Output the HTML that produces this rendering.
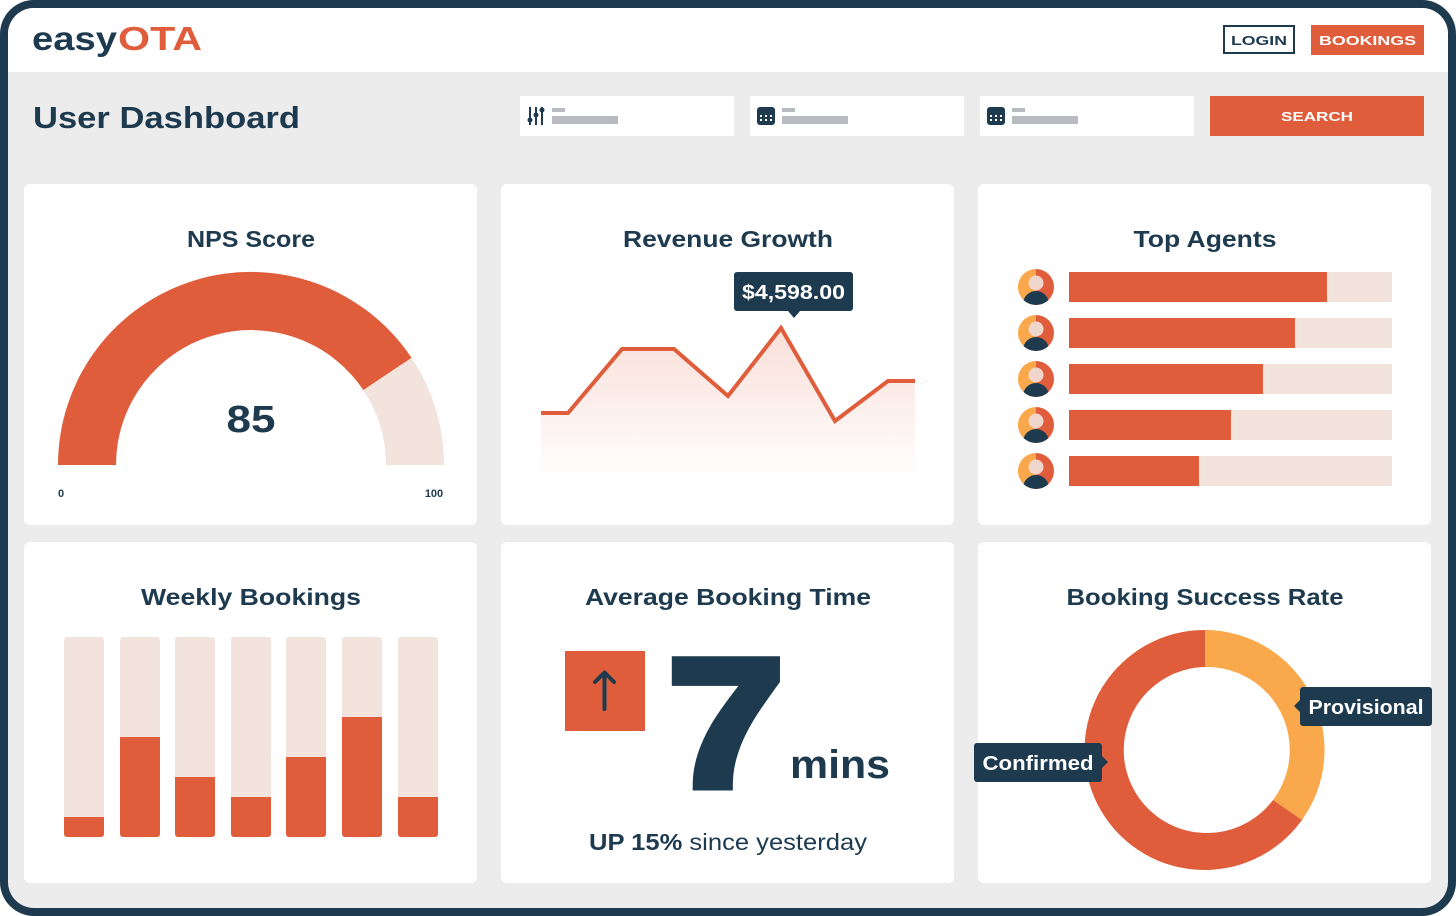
<!DOCTYPE html>
<html><head><meta charset="utf-8"><style>
html,body{margin:0;padding:0;background:#fff;}
svg{display:block;font-family:"Liberation Sans",sans-serif;}
</style></head><body>
<svg width="1456" height="916" viewBox="0 0 1456 916" xmlns="http://www.w3.org/2000/svg">
<defs>
<linearGradient id="g" x1="0" y1="0" x2="0" y2="1"><stop offset="0" stop-color="#e05d3c" stop-opacity="0.2"/><stop offset="1" stop-color="#e05d3c" stop-opacity="0"/></linearGradient>
<clipPath id="av"><circle cx="0" cy="0" r="18"/></clipPath>
<symbol id="avatar" overflow="visible">
<g clip-path="url(#av)">
<rect x="-18" y="-18" width="18" height="36" fill="#f9a94b"/>
<rect x="0" y="-18" width="18" height="36" fill="#e05d3c"/>
<ellipse cx="0" cy="17" rx="13" ry="13" fill="#1d3a4f"/>
<circle cx="0" cy="-4" r="7.5" fill="#f0d5cc"/>
</g>
</symbol>
</defs>
<rect x="0" y="0" width="1456" height="916" rx="34" fill="#1d3a4f"/>
<rect x="8" y="8" width="1440" height="900" rx="26" fill="#ececec"/>
<path d="M8 72 V34 A26 26 0 0 1 34 8 H1422 A26 26 0 0 1 1448 34 V72 Z" fill="#fff"/>
<text x="32" y="50" font-size="33" font-weight="bold" fill="#1d3a4f" textLength="85" lengthAdjust="spacingAndGlyphs">easy</text>
<text x="118" y="50" font-size="33" font-weight="bold" fill="#e05d3c" textLength="84" lengthAdjust="spacingAndGlyphs">OTA</text>
<rect x="1224" y="26" width="70" height="27" fill="#fff" stroke="#1d3a4f" stroke-width="2"/>
<text x="1259" y="45" font-size="13" font-weight="bold" fill="#1d3a4f" text-anchor="middle" textLength="56" lengthAdjust="spacingAndGlyphs">LOGIN</text>
<rect x="1311" y="25" width="113" height="30" fill="#e05d3c"/>
<text x="1367.5" y="45" font-size="13" font-weight="bold" fill="#fff" text-anchor="middle" textLength="97" lengthAdjust="spacingAndGlyphs">BOOKINGS</text>
<text x="33" y="128" font-size="31" font-weight="bold" fill="#1d3a4f" textLength="267" lengthAdjust="spacingAndGlyphs">User Dashboard</text>
<rect x="520" y="96" width="214" height="40" fill="#fff"/>
<rect x="750" y="96" width="214" height="40" fill="#fff"/>
<rect x="980" y="96" width="214" height="40" fill="#fff"/>
<g fill="#1d3a4f"><rect x="529" y="107" width="2" height="18"/><rect x="535" y="107" width="2" height="18"/><rect x="541" y="107" width="2" height="18"/><circle cx="530" cy="120" r="2.5"/><circle cx="536" cy="115" r="2.5"/><circle cx="542" cy="110" r="2.5"/></g>
<rect x="552" y="108" width="13" height="4" fill="#b8bcc0"/><rect x="552" y="116" width="66" height="8" fill="#b8bcc0"/>
<rect x="757" y="107" width="18" height="18" rx="3" fill="#1d3a4f"/><rect x="782" y="108" width="13" height="4" fill="#b8bcc0"/><rect x="782" y="116" width="66" height="8" fill="#b8bcc0"/>
<rect x="987" y="107" width="18" height="18" rx="3" fill="#1d3a4f"/><rect x="1012" y="108" width="13" height="4" fill="#b8bcc0"/><rect x="1012" y="116" width="66" height="8" fill="#b8bcc0"/>
<g fill="#fff"><rect x="760" y="115" width="2" height="2"/><rect x="765" y="115" width="2" height="2"/><rect x="770" y="115" width="2" height="2"/><rect x="760" y="119" width="2" height="2"/><rect x="765" y="119" width="2" height="2"/><rect x="770" y="119" width="2" height="2"/>
<rect x="990" y="115" width="2" height="2"/><rect x="995" y="115" width="2" height="2"/><rect x="1000" y="115" width="2" height="2"/><rect x="990" y="119" width="2" height="2"/><rect x="995" y="119" width="2" height="2"/><rect x="1000" y="119" width="2" height="2"/></g>
<rect x="1210" y="96" width="214" height="40" fill="#e05d3c"/>
<text x="1317" y="121" font-size="13" font-weight="bold" fill="#fff" text-anchor="middle" textLength="72" lengthAdjust="spacingAndGlyphs">SEARCH</text>
<g fill="#fff">
<rect x="24" y="184" width="453" height="341" rx="6"/><rect x="501" y="184" width="453" height="341" rx="6"/><rect x="978" y="184" width="453" height="341" rx="6"/>
<rect x="24" y="542" width="453" height="341" rx="6"/><rect x="501" y="542" width="453" height="341" rx="6"/><rect x="978" y="542" width="453" height="341" rx="6"/>
</g>
<g font-size="23" font-weight="bold" fill="#1d3a4f" text-anchor="middle">
<text x="251" y="247" textLength="128" lengthAdjust="spacingAndGlyphs">NPS Score</text><text x="728" y="247" textLength="210" lengthAdjust="spacingAndGlyphs">Revenue Growth</text><text x="1205" y="247" textLength="143" lengthAdjust="spacingAndGlyphs">Top Agents</text>
<text x="251" y="605" textLength="220" lengthAdjust="spacingAndGlyphs">Weekly Bookings</text><text x="728" y="605" textLength="286" lengthAdjust="spacingAndGlyphs">Average Booking Time</text><text x="1205" y="605" textLength="277" lengthAdjust="spacingAndGlyphs">Booking Success Rate</text>
</g>
<path d="M58 465 A193 193 0 0 1 411.6 357.9 L363.3 390.1 A135 135 0 0 0 116 465 Z" fill="#e05d3c"/>
<path d="M411.6 357.9 A193 193 0 0 1 444 465 L386 465 A135 135 0 0 0 363.3 390.1 Z" fill="#f2e4dc"/>
<text x="251" y="432" font-size="38" font-weight="bold" fill="#1d3a4f" text-anchor="middle" textLength="49" lengthAdjust="spacingAndGlyphs">85</text>
<text x="61" y="497" font-size="11" font-weight="bold" fill="#1d3a4f" text-anchor="middle">0</text>
<text x="434" y="497" font-size="11" font-weight="bold" fill="#1d3a4f" text-anchor="middle">100</text>
<path d="M541 413 L568 413 L622 349 L674 349 L728 396 L781 328 L835 421 L888 381 L915 381 L915 482 L541 482 Z" fill="url(#g)"/>
<polyline points="541,413 568,413 622,349 674,349 728,396 781,328 835,421 888,381 915,381" fill="none" stroke="#e05d3c" stroke-width="4" stroke-linejoin="miter"/>
<rect x="734" y="272" width="119" height="39" rx="3" fill="#1d3a4f"/>
<path d="M788 311 L794 318 L800 311 Z" fill="#1d3a4f"/>
<text x="793.5" y="299" font-size="20" font-weight="bold" fill="#fff" text-anchor="middle" textLength="103" lengthAdjust="spacingAndGlyphs">$4,598.00</text>
<g>
<rect x="1069" y="272" width="323" height="30" fill="#f2e4dc"/><rect x="1069" y="272" width="258" height="30" fill="#e05d3c"/>
<rect x="1069" y="318" width="323" height="30" fill="#f2e4dc"/><rect x="1069" y="318" width="226" height="30" fill="#e05d3c"/>
<rect x="1069" y="364" width="323" height="30" fill="#f2e4dc"/><rect x="1069" y="364" width="194" height="30" fill="#e05d3c"/>
<rect x="1069" y="410" width="323" height="30" fill="#f2e4dc"/><rect x="1069" y="410" width="162" height="30" fill="#e05d3c"/>
<rect x="1069" y="456" width="323" height="30" fill="#f2e4dc"/><rect x="1069" y="456" width="130" height="30" fill="#e05d3c"/>
<use href="#avatar" x="1036" y="287"/><use href="#avatar" x="1036" y="333"/><use href="#avatar" x="1036" y="379"/><use href="#avatar" x="1036" y="425"/><use href="#avatar" x="1036" y="471"/>
</g>
<g>
<rect x="64" y="637" width="40" height="200" rx="3" fill="#f2e4dc"/><rect x="64" y="817" width="40" height="20" rx="3" fill="#e05d3c"/><rect x="64" y="817" width="40" height="10" fill="#e05d3c"/>
<rect x="120" y="637" width="40" height="200" rx="3" fill="#f2e4dc"/><rect x="120" y="737" width="40" height="100" rx="3" fill="#e05d3c"/><rect x="120" y="737" width="40" height="10" fill="#e05d3c"/>
<rect x="175" y="637" width="40" height="200" rx="3" fill="#f2e4dc"/><rect x="175" y="777" width="40" height="60" rx="3" fill="#e05d3c"/><rect x="175" y="777" width="40" height="10" fill="#e05d3c"/>
<rect x="231" y="637" width="40" height="200" rx="3" fill="#f2e4dc"/><rect x="231" y="797" width="40" height="40" rx="3" fill="#e05d3c"/><rect x="231" y="797" width="40" height="10" fill="#e05d3c"/>
<rect x="286" y="637" width="40" height="200" rx="3" fill="#f2e4dc"/><rect x="286" y="757" width="40" height="80" rx="3" fill="#e05d3c"/><rect x="286" y="757" width="40" height="10" fill="#e05d3c"/>
<rect x="342" y="637" width="40" height="200" rx="3" fill="#f2e4dc"/><rect x="342" y="717" width="40" height="120" rx="3" fill="#e05d3c"/><rect x="342" y="717" width="40" height="10" fill="#e05d3c"/>
<rect x="398" y="637" width="40" height="200" rx="3" fill="#f2e4dc"/><rect x="398" y="797" width="40" height="40" rx="3" fill="#e05d3c"/><rect x="398" y="797" width="40" height="10" fill="#e05d3c"/>
</g>
<rect x="565" y="651" width="80" height="80" fill="#e05d3c"/>
<path d="M604.5 709 V673 M595 682 L604.5 672.5 L614 682" fill="none" stroke="#1d3a4f" stroke-width="4" stroke-linecap="round" stroke-linejoin="round"/>
<text x="668" y="786" font-size="182" font-weight="bold" fill="#1d3a4f" stroke="#1d3a4f" stroke-width="9" stroke-linejoin="miter" textLength="116" lengthAdjust="spacingAndGlyphs">7</text>
<text x="790" y="778" font-size="40" font-weight="bold" fill="#1d3a4f" textLength="100" lengthAdjust="spacingAndGlyphs">mins</text>
<text x="728" y="850" font-size="23" fill="#1d3a4f" text-anchor="middle" textLength="278" lengthAdjust="spacingAndGlyphs"><tspan font-weight="bold">UP 15%</tspan> since yesterday</text>
<path d="M1205 630 A120 120 0 0 1 1302 820 L1273 800 A83 83 0 0 0 1205 667 Z" fill="#f9a94b"/>
<path d="M1302 820 A120 120 0 1 1 1205 630 L1205 667 A83 83 0 1 0 1273 800 Z" fill="#e05d3c"/>
<rect x="1300" y="687" width="132" height="39" rx="3" fill="#1d3a4f"/><path d="M1300 700 L1294 706 L1300 712 Z" fill="#1d3a4f"/>
<text x="1366" y="714" font-size="20" font-weight="bold" fill="#fff" text-anchor="middle" textLength="115" lengthAdjust="spacingAndGlyphs">Provisional</text>
<rect x="974" y="743" width="128" height="39" rx="3" fill="#1d3a4f"/><path d="M1102 756 L1108 762 L1102 768 Z" fill="#1d3a4f"/>
<text x="1038" y="770" font-size="20" font-weight="bold" fill="#fff" text-anchor="middle" textLength="111" lengthAdjust="spacingAndGlyphs">Confirmed</text>
</svg>
</body></html>
